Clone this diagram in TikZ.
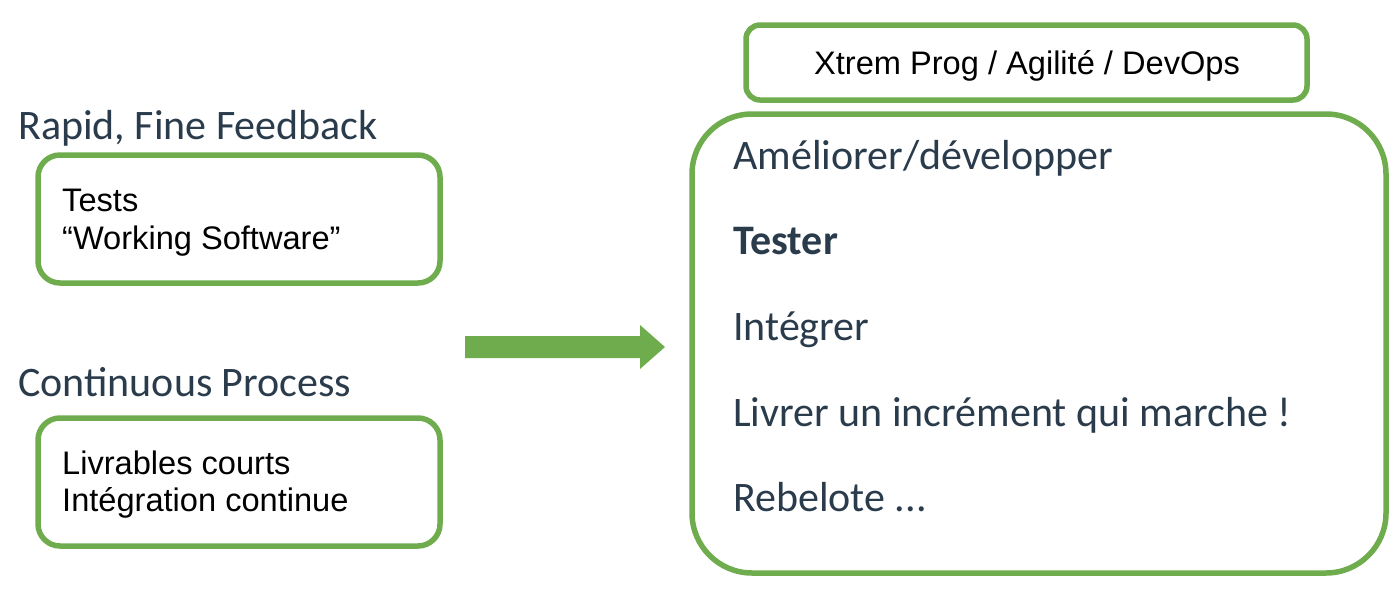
\documentclass[tikz,border=0pt]{standalone}
\usepackage{fontspec}
\setmainfont{Liberation Sans}
\newfontfamily\calib{Carlito}
\definecolor{grn}{HTML}{6FAC4E}
\definecolor{slate}{HTML}{2A3B4C}
\tikzset{
  gbox/.style={draw=grn, line width=5.5pt},
  head/.style={anchor=base west, inner sep=0pt, text=slate, font=\calib\fontsize{42}{48}\selectfont},
  body/.style={anchor=base west, inner sep=0pt, text=black, font=\fontsize{32.6}{38}\selectfont},
}
\begin{document}
\begin{tikzpicture}[x=1pt,y=-1pt]
\useasboundingbox (0,0) rectangle (1397,595);
% left boxes
\draw[gbox, rounded corners=22pt] (38,155) rectangle (440,283);
\draw[gbox, rounded corners=22pt] (38,418) rectangle (440,546);
\node[head] (h1) at (18,139) {Rapid, Fine Feedback};
\node[head] (h2) at (18,396) {Continuous Process};
\node[body] (t1) at (62,211) {Tests};
\node[body] (t2) at (62,249) {“Working Software”};
\node[body] (t3) at (62,474) {Livrables courts};
\node[body] (t4) at (62,511) {Intégration continue};
% arrow
\fill[grn] (465,336) -- (640,336) -- (640,325) -- (665,347) -- (640,369) -- (640,358) -- (465,358) -- cycle;
% top box
\draw[gbox, rounded corners=14pt] (746,25) rectangle (1307,100);
\node[anchor=base, inner sep=0pt, font=\fontsize{32.6}{38}\selectfont] (top) at (1027,74) {Xtrem Prog / Agilité / DevOps};
% big box
\draw[gbox, rounded corners=60pt] (692,114) rectangle (1386,573);
\node[head] (r1) at (733,169) {Améliorer/développer};
\node[head, font=\calib\bfseries\fontsize{42}{48}\selectfont] (r2) at (733,254) {Tester};
\node[head] (r3) at (733,340) {Intégrer};
\node[head] (r4) at (733,426) {Livrer un incrément qui marche !};
\node[head] (r5) at (733,511) {Rebelote ...};
\end{tikzpicture}
\end{document}
